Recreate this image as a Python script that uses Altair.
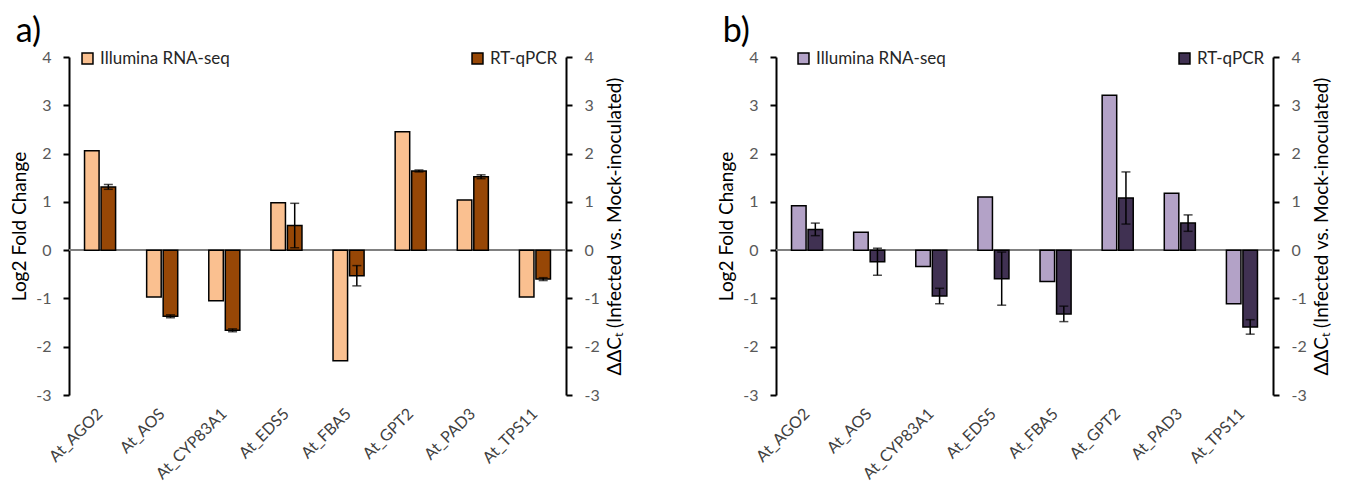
import altair as alt
import pandas as pd

genes = ["At_AGO2", "At_AOS", "At_CYP83A1", "At_EDS5", "At_FBA5", "At_GPT2", "At_PAD3", "At_TPS11"]
series = ["Illumina RNA-seq", "RT-qPCR"]

a_rnaseq = [2.06, -0.97, -1.05, 0.98, -2.29, 2.45, 1.04, -0.97]
a_qpcr = [1.31, -1.37, -1.66, 0.51, -0.53, 1.64, 1.52, -0.60]
a_qpcr_err = [0.05, 0.03, 0.03, 0.46, 0.21, 0.02, 0.04, 0.03]

b_rnaseq = [0.92, 0.37, -0.34, 1.10, -0.65, 3.21, 1.18, -1.11]
b_qpcr = [0.43, -0.24, -0.95, -0.59, -1.32, 1.08, 0.56, -1.59]
b_qpcr_err = [0.13, 0.28, 0.16, 0.55, 0.16, 0.54, 0.17, 0.15]

y_ticks = [-3, -2, -1, 0, 1, 2, 3, 4]
FONT = "Lato"
W, H = 497, 338


def axis_y(orient, title, baseline):
    return alt.Axis(
        orient=orient, title=title, values=y_ticks, grid=False,
        labelExpr="toString(datum.value)",
        domainColor="black", domainWidth=2, tickColor="black", tickWidth=2,
        tickSize=6, labelPadding=12, labelColor="#595959", labelFontSize=16,
        labelFont=FONT, titleFont=FONT, titleFontSize=19, titleColor="black",
        titleFontWeight="normal", titlePadding=6, titleAngle=270,
        titleBaseline=baseline,
    )


def panel(tag, light, dark, rna, q, qerr, leg1x, leg2x):
    df_r = pd.DataFrame({"gene": genes, "value": rna, "series": series[0]})
    df_q = pd.DataFrame({"gene": genes, "value": q, "series": series[1],
                         "lo": [v - e for v, e in zip(q, qerr)],
                         "hi": [v + e for v, e in zip(q, qerr)]})
    x = alt.X("gene:N", sort=genes,
              scale=alt.Scale(paddingInner=0.5, paddingOuter=0.25),
              axis=alt.Axis(title=None, labelAngle=-45, domain=False, ticks=False,
                            labelPadding=16, labelFontSize=16, labelFont=FONT,
                            labelColor="#404040", labelAlign="right", labelBaseline="middle"))
    xo = alt.XOffset("series:N", scale=alt.Scale(domain=series, paddingInner=0.12, paddingOuter=0))
    yscale = alt.Scale(domain=[-3, 4], nice=False, zero=False)
    axL = axis_y("left", "Log2 Fold Change", "bottom")
    axR = axis_y("right", "ΔΔCₜ (Infected vs. Mock-inoculated)", "top")

    def legend(x_):
        return alt.Legend(title=None, orient="none", legendX=x_, legendY=-7,
                          symbolType="square", symbolSize=120, symbolStrokeColor="black",
                          symbolStrokeWidth=1.5, labelFont=FONT, labelFontSize=17,
                          labelColor="#262626", labelOffset=4)

    zero = alt.Chart(df_r).mark_rule(color="#808080", strokeWidth=1.2).encode(
        y=alt.YDatum(0, scale=yscale, axis=axL))
    bars_r = alt.Chart(df_r).mark_bar(stroke="black", strokeWidth=1.5).encode(
        x=x, xOffset=xo,
        y=alt.Y("value:Q", scale=yscale, axis=axL),
        color=alt.Color("series:N", scale=alt.Scale(domain=[series[0]], range=[light]),
                        legend=legend(leg1x)),
    )
    left = alt.layer(zero, bars_r)

    bars_q = alt.Chart(df_q).mark_bar(stroke="black", strokeWidth=1.5).encode(
        x=x, xOffset=xo, y=alt.Y("value:Q", scale=yscale, axis=axR),
        color=alt.Color("series:N", scale=alt.Scale(domain=[series[1]], range=[dark]),
                        legend=legend(leg2x)),
    )
    err = alt.Chart(df_q).mark_rule(color="black", strokeWidth=1.5).encode(
        x=x, xOffset=xo, y=alt.Y("lo:Q", scale=yscale, axis=axR), y2="hi:Q")
    cap_lo = alt.Chart(df_q).mark_tick(color="black", thickness=1.5, size=9).encode(
        x=x, xOffset=xo, y=alt.Y("lo:Q", scale=yscale, axis=axR))
    cap_hi = alt.Chart(df_q).mark_tick(color="black", thickness=1.5, size=9).encode(
        x=x, xOffset=xo, y=alt.Y("hi:Q", scale=yscale, axis=axR))
    right = alt.layer(bars_q, err, cap_lo, cap_hi)

    return alt.layer(left, right).resolve_scale(
        y="independent", color="independent"
    ).properties(
        width=W, height=H,
        title=alt.TitleParams(tag, anchor="start", frame="bounds", fontSize=34,
                              fontWeight="normal", font=FONT, color="black",
                              offset=0, dx=5),
    )


pa = panel("a)", "#FAC090", "#974706", a_rnaseq, a_qpcr, a_qpcr_err, 10, 400)
pb = panel("b)", "#B3A2C7", "#403152", b_rnaseq, b_qpcr, b_qpcr_err, 19, 400)

chart = alt.hconcat(pa, pb, spacing=92).properties(
    padding={"left": 2, "top": 7, "right": 5, "bottom": 0}
).configure(font=FONT).configure_view(stroke=None)

chart.save("out.html", embed_options={"renderer": "svg", "actions": False})
